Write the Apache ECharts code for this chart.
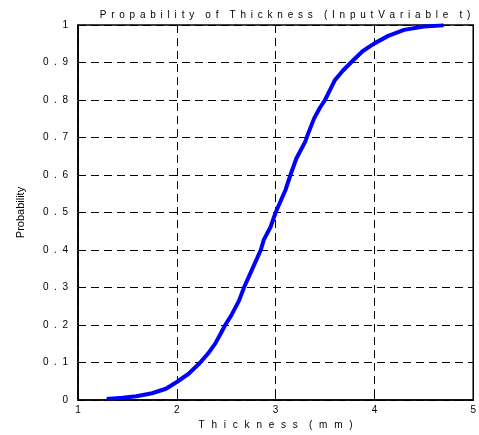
<!DOCTYPE html>
<html>
<head>
<meta charset="utf-8">
<script src="https://cdn.jsdelivr.net/npm/echarts@6/dist/echarts.min.js"></script>
<style>
  html, body { margin: 0; padding: 0; background: #fff; }
  #chart { width: 479px; height: 435px; }
</style>
</head>
<body>
<div id="chart"></div>
<script>
// thickness (mm) and cumulative probability
var thickness = [1.29, 1.45, 1.59, 1.75, 1.89, 2.0, 2.12, 2.23, 2.32, 2.39, 2.45, 2.49, 2.55, 2.63, 2.68,
    2.76, 2.85, 2.88, 2.95, 3.0, 3.05, 3.10, 3.15, 3.21, 3.30, 3.33, 3.39, 3.45, 3.5, 3.60, 3.68, 3.77,
    3.88, 4.0, 4.14, 4.30, 4.50, 4.70];
var probability = [0.003, 0.006, 0.01, 0.018, 0.03, 0.048, 0.07, 0.098, 0.125, 0.151, 0.18, 0.2, 0.225,
    0.265, 0.30, 0.347, 0.40, 0.427, 0.462, 0.5, 0.53, 0.56, 0.60, 0.644, 0.689, 0.711, 0.751, 0.78,
    0.80, 0.853, 0.878, 0.902, 0.93, 0.951, 0.971, 0.987, 0.996, 0.999];
var xTicks = [1, 2, 3, 4, 5];
var yTicks = [0, 0.1, 0.2, 0.3, 0.4, 0.5, 0.6, 0.7, 0.8, 0.9, 1];

// old plot fonts put wide gaps between letters
function spaced(s, gap) {
    return s.split('').join(gap || ' \u2009');
}

var points = [];
thickness.forEach(function (t, i) {
    points.push([t, probability[i]]);
});

var font = '"Liberation Sans", Arial, sans-serif';
var chart = echarts.init(document.getElementById('chart'));

chart.setOption({
    animation: false,
    backgroundColor: '#fff',
    title: {
        text: spaced('Propability') + '    ' + spaced('of') + '    ' + spaced('Thickness') + '    ' +
            spaced('(InputVariable') + '    ' + spaced('t)'),
        left: 280,
        textAlign: 'center',
        top: 5,
        textStyle: { fontFamily: font, fontSize: 10, fontWeight: 'normal', color: '#000' }
    },
    grid: {
        left: 78, right: 3, top: 25, bottom: 35,
        show: true, borderColor: '#000', borderWidth: 1.5, backgroundColor: 'transparent'
    },
    xAxis: {
        type: 'value',
        min: xTicks[0],
        max: xTicks[xTicks.length - 1],
        interval: 1,
        name: spaced('Thickness', ' \u2009\u2009') + '    ' + spaced('(mm)', ' \u2009\u2009'),
        nameLocation: 'middle',
        nameGap: 19,
        nameTextStyle: { fontFamily: font, fontSize: 10, color: '#000' },
        axisLine: { show: true, lineStyle: { color: '#000', width: 1.5 } },
        axisTick: { show: true, inside: true, length: 4, lineStyle: { color: '#000' } },
        axisLabel: { fontFamily: font, fontSize: 10, color: '#000', margin: 5 },
        splitLine: { show: true, lineStyle: { color: '#000', type: [8, 5], width: 1 } }
    },
    yAxis: {
        type: 'value',
        min: yTicks[0],
        max: yTicks[yTicks.length - 1],
        interval: 0.1,
        name: 'Probability',
        nameLocation: 'middle',
        nameGap: 52,
        nameTextStyle: { fontFamily: font, fontSize: 11, color: '#000' },
        axisLine: { show: true, lineStyle: { color: '#000', width: 1.5 } },
        axisTick: { show: true, inside: true, length: 4, lineStyle: { color: '#000' } },
        axisLabel: {
            fontFamily: font, fontSize: 10, color: '#000', margin: 10,
            formatter: function (v) {
                if (v === 0 || v === 1) return String(v);
                return spaced(v.toFixed(1), '  ');
            }
        },
        splitLine: { show: true, lineStyle: { color: '#000', type: [8, 5], width: 1 } }
    },
    series: [{
        type: 'line',
        data: points,
        showSymbol: false,
        smooth: false,
        lineStyle: { color: '#0000ff', width: 4 }
    }]
});
</script>
</body>
</html>
